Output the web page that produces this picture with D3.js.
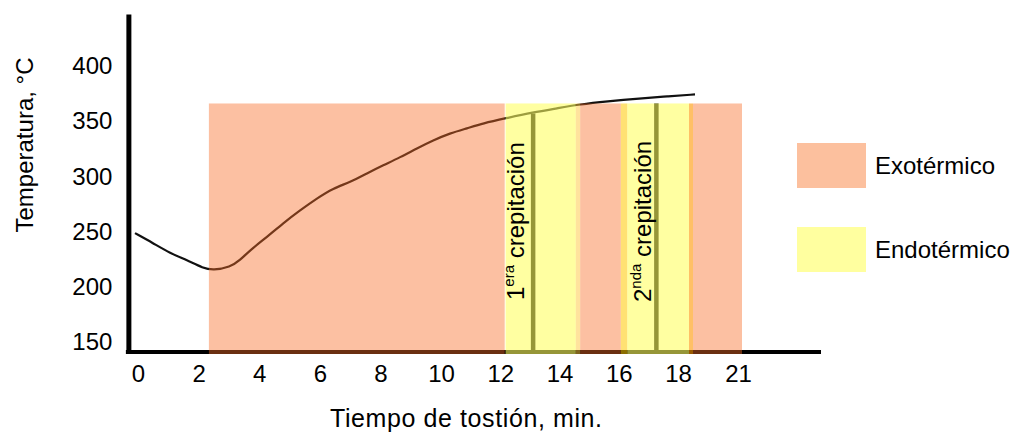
<!DOCTYPE html>
<html>
<head>
<meta charset="utf-8">
<script src="https://cdn.jsdelivr.net/npm/d3@7/dist/d3.min.js"></script>
<style>
  html, body { margin: 0; padding: 0; background: #fff; }
  svg { display: block; font-family: "Liberation Sans", Arial, sans-serif; }
</style>
</head>
<body>
<svg id="chart" width="1018" height="433"></svg>
<script>
// ---------- data ----------
const xTickValues = [0, 2, 4, 6, 8, 10, 12, 14, 16, 18, 21];
const xTickLabels = ["0", "2", "4", "6", "8", "10", "12", "14", "16", "18", "21"];
const yTickValues = [150, 200, 250, 300, 350, 400];

// roast curve: time (min) and temperature (°C)
const timeMin = [-0.1, 0.5, 1.06, 1.62, 2.15, 2.48, 3.04, 3.37, 3.70, 4.26, 4.79, 5.35, 5.91, 6.44, 7.0,
                 7.56, 8.09, 8.65, 9.21, 9.74, 10.30, 10.88, 11.42, 12.16, 13.11, 13.92, 14.69, 15.60,
                 16.72, 17.63, 18.85];
const tempC   = [248.6, 239.5, 230.5, 224.1, 216.9, 215.1, 217.8, 224.1, 233.2, 245.2, 257.6, 269.3, 280.2,
                 289.2, 294.7, 302.8, 310.0, 317.3, 325.4, 332.6, 339.0, 343.5, 348.0, 352.5, 358.0,
                 361.6, 365.2, 367.9, 370.6, 372.4, 374.2];

// reaction bands (time ranges, min) and their kind
const bandStart = [2.34, 12.18, 14.55, 14.70, 16.07, 16.29, 18.55, 18.75];
const bandEnd   = [12.15, 14.55, 14.70, 16.07, 16.29, 18.55, 18.75, 21.2];
const bandKind  = ["exo", "endo", "edgeA", "exo", "edgeB", "endo", "edgeC", "exo"];
const bandTopTemp = 366;

// crack events
const crackTime = [13.11, 17.27];
const crackTopTemp = [357, 366];
const crackMain = ["1", "2"];
const crackSup = ["era", "nda"];
const crackWord = " crepitación";

const legendLabels = ["Exotérmico", "Endotérmico"];
const legendKinds = ["exo", "endo"];

const xTitle = "Tiempo de tostión, min.";
const yTitle = "Temperatura, °C";

// axis extents
const xAxisExtent = [-0.4, 25.15];
const yAxisExtent = [141, 447];

// ---------- styles ----------
const overlay = {
  exo:   { fill: "rgb(248,110,40)", op: 0.43 },
  endo:  { fill: "rgb(255,255,95)", op: 0.59 },
  edgeA: { fill: "rgb(255,200,60)", op: 0.5 },
  edgeB: { fill: "rgb(255,200,0)", op: 0.55 },
  edgeC: { fill: "rgb(255,150,0)", op: 0.6 }
};
const legendFill = { exo: "#FCC09E", endo: "#FFFF9F" };

// ---------- scales ----------
const svg = d3.select("#chart");
const x = d3.scaleLinear().domain([0, 10, 18, 21]).range([138, 441, 678, 738]);
const y = d3.scaleLinear().domain(yAxisExtent).range([352, 14]);

// ---------- axis lines ----------
svg.append("line")
  .attr("x1", x(xAxisExtent[0])).attr("x2", x(xAxisExtent[1]))
  .attr("y1", y(yAxisExtent[0])).attr("y2", y(yAxisExtent[0]))
  .attr("stroke", "#000").attr("stroke-width", 4);

// y axis via d3.axisLeft
const yAxis = svg.append("g")
  .attr("transform", `translate(${x(xAxisExtent[0]) + 2.5},0)`)
  .call(d3.axisLeft(y).tickValues(yTickValues).tickSize(0).tickSizeOuter(0).tickPadding(16));
yAxis.select(".domain").attr("stroke", "#000").attr("stroke-width", 5);
yAxis.selectAll("text").attr("font-size", 24).attr("fill", "#000")
  .attr("font-family", "Liberation Sans, Arial, sans-serif");

// x axis ticks via d3.axisBottom (domain hidden; line drawn above)
const xAxis = svg.append("g")
  .attr("transform", `translate(0,${y(yAxisExtent[0])})`)
  .call(d3.axisBottom(x).tickValues(xTickValues)
    .tickFormat((d, i) => xTickLabels[i]).tickSize(0).tickPadding(13));
xAxis.select(".domain").remove();
xAxis.selectAll("text").attr("font-size", 24).attr("fill", "#000")
  .attr("font-family", "Liberation Sans, Arial, sans-serif");

// ---------- curve ----------
const pts = timeMin.map((t, i) => [t, tempC[i]]);
svg.append("path")
  .datum(pts)
  .attr("fill", "none")
  .attr("stroke", "#111")
  .attr("stroke-width", 2.2)
  .attr("d", d3.line().x(d => x(d[0])).y(d => y(d[1])).curve(d3.curveBasis));

// ---------- crack lines ----------
svg.selectAll("line.crack")
  .data(crackTime)
  .join("line")
  .attr("class", "crack")
  .attr("x1", d => x(d)).attr("x2", d => x(d))
  .attr("y1", (d, i) => y(crackTopTemp[i]))
  .attr("y2", y(yAxisExtent[0]))
  .attr("stroke", "#000").attr("stroke-width", 4.5);

// ---------- band overlays ----------
svg.selectAll("rect.band")
  .data(bandStart.map((s, i) => ({ s, e: bandEnd[i], k: bandKind[i] })))
  .join("rect")
  .attr("class", "band")
  .attr("x", d => x(d.s))
  .attr("width", d => x(d.e) - x(d.s))
  .attr("y", y(bandTopTemp))
  .attr("height", y(yAxisExtent[0]) + 2 - y(bandTopTemp))
  .attr("fill", d => overlay[d.k].fill)
  .attr("fill-opacity", d => overlay[d.k].op);

// ---------- crack labels ----------
const crackBaseX = [524, 651];
const crackStartY = [300, 302];
crackTime.forEach((t, i) => {
  const tx = svg.append("text")
    .attr("transform", `translate(${crackBaseX[i]},${crackStartY[i]}) rotate(-90)`)
    .attr("font-size", 24).attr("fill", "#000");
  tx.append("tspan").text(crackMain[i]);
  tx.append("tspan").attr("font-size", 15).attr("dy", -10).text(crackSup[i]);
  tx.append("tspan").attr("dy", 10).text(crackWord);
});

// ---------- legend ----------
const legendY = [143, 227];
legendKinds.forEach((k, i) => {
  svg.append("rect")
    .attr("x", 797).attr("y", legendY[i]).attr("width", 69).attr("height", 45)
    .attr("fill", legendFill[k]);
  svg.append("text")
    .attr("x", 875).attr("y", legendY[i] + 22.5).attr("dy", "0.36em")
    .attr("font-size", 24).attr("fill", "#000")
    .text(legendLabels[i]);
});

// ---------- titles ----------
svg.append("text")
  .attr("transform", `translate(33,145) rotate(-90)`)
  .attr("text-anchor", "middle")
  .attr("font-size", 24).attr("fill", "#000")
  .text(yTitle);

svg.append("text")
  .attr("x", 466).attr("y", 427)
  .attr("text-anchor", "middle")
  .attr("font-size", 25)
  .attr("textLength", 272).attr("lengthAdjust", "spacing")
  .attr("fill", "#000")
  .text(xTitle);
</script>
</body>
</html>
